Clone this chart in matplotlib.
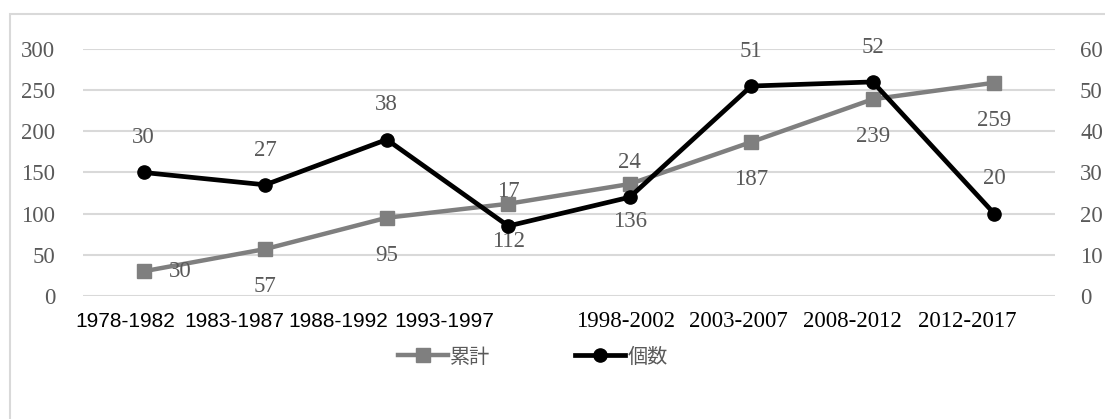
import matplotlib.pyplot as plt
from matplotlib.patches import Rectangle
from matplotlib.transforms import blended_transform_factory, ScaledTranslation

periods = ["1978-1982", "1983-1987", "1988-1992", "1993-1997",
           "1998-2002", "2003-2007", "2008-2012", "2012-2017"]
cumulative = [30, 57, 95, 112, 136, 187, 239, 259]   # 累計 (left axis)
counts = [30, 27, 38, 17, 24, 51, 52, 20]            # 個数 (right axis)

GRAY = "#7f7f7f"
TXT = "#595959"
GRID = "#d9d9d9"
SERIF = ["Liberation Serif", "DejaVu Serif"]
SANS = ["Liberation Sans", "DejaVu Sans"]
CJK = ["Noto Sans CJK JP", "DejaVu Sans"]

fig = plt.figure(figsize=(11.05, 4.19), dpi=100)
ax = fig.add_axes([0.0751, 0.2936, 0.8797, 0.5895])
ax2 = ax.twinx()

# chart frame
fig.patches.append(Rectangle((10 / 1105, -0.5), 2, 1.5 - 14 / 419,
                             transform=fig.transFigure, fill=False,
                             edgecolor=GRID, lw=1.5, zorder=0))

x = list(range(len(periods)))
l1, = ax.plot(x, cumulative, color=GRAY, lw=3.2, marker="s", ms=9.5,
              label="累計", zorder=3)
l2, = ax2.plot(x, counts, color="black", lw=3.4, marker="o", ms=9.5,
               label="個数", zorder=4)

ax.set_ylim(0, 300)
ax.set_yticks(range(0, 301, 50))
ax2.set_ylim(0, 60)
ax2.set_yticks(range(0, 61, 10))
ax.set_xlim(-0.5, len(periods) - 0.5)
ax.set_xticks([])
ax.grid(axis="y", color=GRID, lw=1.5)
ax.set_axisbelow(True)
for a in (ax, ax2):
    for s in a.spines.values():
        s.set_visible(False)
    a.tick_params(length=0, labelsize=16.5, labelcolor=TXT,
                  labelfontfamily=SERIF[0])
ax.tick_params(axis="y", pad=20)
ax2.tick_params(axis="y", pad=18)

# category labels sit in a run, slightly left of the band centres
shifts = [-18, -31, -49, -64, -4, -13, -20, -27]
base = blended_transform_factory(ax.transData, ax.transAxes)
for i, p in enumerate(periods):
    tr = base + ScaledTranslation(shifts[i] / 100, 0, fig.dpi_scale_trans)
    if i < 4:
        ax.text(i, -0.105, p, transform=tr, ha="center", va="center",
                fontsize=15, family=SANS, color="black")
    else:
        ax.text(i, -0.105, p, transform=tr, ha="center", va="center",
                fontsize=16.5, family=SERIF, color="black")

# value labels
for i, v in enumerate(cumulative):
    off = (26, 0) if i == 0 else (0, -27)
    ax.annotate(str(v), (i, v), xytext=off, textcoords="offset points",
                ha="center", va="center", fontsize=16.5, color=TXT,
                family=SERIF)
for i, v in enumerate(counts):
    ax2.annotate(str(v), (i, v), xytext=(0, 25), textcoords="offset points",
                 ha="center", va="center", fontsize=16.5, color=TXT,
                 family=SERIF)

leg = fig.legend(handles=[l1, l2], loc="center",
                 bbox_to_anchor=(0.482, 1 - 357 / 419),
                 ncol=2, frameon=False, handlelength=2.5, handletextpad=0.1,
                 columnspacing=4.2, prop={"family": CJK, "size": 14.5})
for t in leg.get_texts():
    t.set_color(TXT)

fig.savefig("out.png", dpi=100)
plt.close(fig)
